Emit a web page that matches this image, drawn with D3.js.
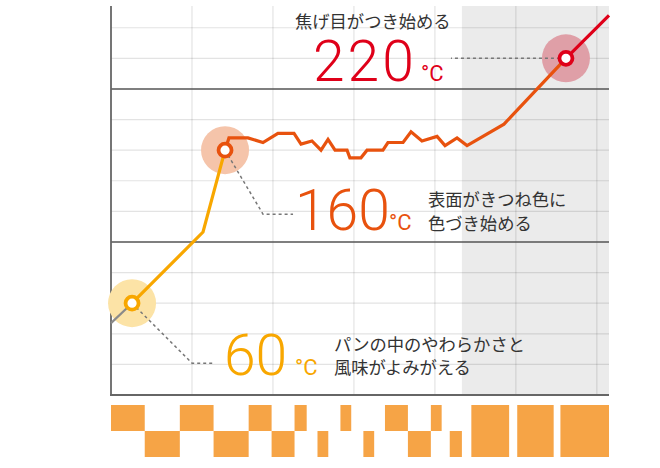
<!DOCTYPE html>
<html><head><meta charset="utf-8">
<script src="https://cdn.jsdelivr.net/npm/d3@7"></script>
<style>body{margin:0;background:#fff}svg{display:block}</style>
</head><body>
<svg id="c" width="660" height="468"></svg>
<script>
// ---- data ----
const timeSec = [0, 15.6, 68.2, 84.5, 87.4, 101.5, 112.6, 123.7, 135.6, 140.8, 148.9, 155.6, 160.8, 166, 174.9, 177, 185.2, 189.7, 201.5, 205.2, 216.4, 222.3, 230.4, 241.6, 247.5, 256.4, 263.8, 291.2, 337.1, 369];
const tempC   = [47, 60, 106.5, 160, 168, 168, 165, 171, 171, 164, 166, 160, 167, 160, 160, 155, 155, 160, 160, 165, 165, 172, 166, 169, 163, 168, 163, 177, 220, 248];
const segmentNames  = ["gray", "amber", "orange", "red"];
const segmentStarts = [0, 1, 3, 28];
const segmentEnds   = [1, 3, 28, 29];
const tempTicksMinor = [20, 40, 60, 80, 120, 140, 160, 180, 220, 240];
const tempTicksMajor = [100, 200];
const timeTicks = [60, 120, 180, 240, 300, 360];
const shadeFrom = 260, shadeTo = 369;
const barsTop    = [[0,25],[51,76],[102,119],[136,145],[170,178],[203,220],[237,245]];
const barsBottom = [[25,51],[76,102],[119,136],[153,161],[187,195],[220,237],[251,260]];
const barsFull   = [[267,295],[301,328],[333,369]];
const keyTemps = [60, 160, 220];
const keyIdx = [1, 3, 28];
const keyNum = ["60", "160", "220"];
const keyText = [["パンの中のやわらかさと","風味がよみがえる"],["表面がきつね色に","色づき始める"],["焦げ目がつき始める"]];

// ---- styles ----
const col = {gray:"#8a8a8a", amber:"#F8A700", orange:"#E8520E", red:"#DF0019"};
const keyCol = [col.amber, col.orange, col.red];
const haloCol = ["#FCE3A6", "#F5C4AA", "#DF9FA7"];

const svg = d3.select("#c");
const x = d3.scaleLinear().domain([0, 369]).range([111, 609]);
const y = d3.scaleLinear().domain([0, 254.2]).range([395, 6]);
const yTop = y.range()[1], yBot = y.range()[0];

// shade
svg.append("rect").attr("x", x(shadeFrom)).attr("y", yTop)
  .attr("width", x(shadeTo)-x(shadeFrom)).attr("height", yBot-yTop).attr("fill", "#EBEBEB");

// minor grid
svg.append("g").selectAll("line").data(tempTicksMinor).join("line")
  .attr("x1", x(0)).attr("x2", x(369)).attr("y1", d=>y(d)).attr("y2", d=>y(d))
  .attr("stroke", "rgba(0,0,0,0.11)").attr("stroke-width", 1.2);
svg.append("g").selectAll("line").data(timeTicks).join("line")
  .attr("x1", d=>x(d)).attr("x2", d=>x(d)).attr("y1", yTop).attr("y2", yBot)
  .attr("stroke", "rgba(0,0,0,0.11)").attr("stroke-width", 1.2);
// major grid
svg.append("g").selectAll("line").data(tempTicksMajor).join("line")
  .attr("x1", x(0)).attr("x2", x(369)).attr("y1", d=>y(d)).attr("y2", d=>y(d))
  .attr("stroke", "#555").attr("stroke-width", 1.5);
// axes
svg.append("line").attr("x1", x(0)).attr("x2", x(0)).attr("y1", yTop).attr("y2", yBot)
  .attr("stroke", "#666").attr("stroke-width", 1.8);
svg.append("line").attr("x1", x(0)-1).attr("x2", x(369)).attr("y1", yBot).attr("y2", yBot)
  .attr("stroke", "#666").attr("stroke-width", 2.2);

// bars
const rows = d3.scaleBand().domain(["top","bottom"]).range([405, 457]);
const barFill = "#F6A446";
const bars = svg.append("g").attr("fill", barFill);
bars.selectAll(".bt").data(barsTop).join("rect").attr("class","bt").attr("x", d=>x(d[0])).attr("width", d=>x(d[1])-x(d[0]))
  .attr("y", rows("top")).attr("height", rows.bandwidth());
bars.selectAll(".bb").data(barsBottom).join("rect").attr("class","bb").attr("x", d=>x(d[0])).attr("width", d=>x(d[1])-x(d[0]))
  .attr("y", rows("bottom")).attr("height", rows.bandwidth());
bars.selectAll(".bf").data(barsFull).join("rect").attr("class","bf").attr("x", d=>x(d[0])).attr("width", d=>x(d[1])-x(d[0]))
  .attr("y", rows("top")).attr("height", rows.bandwidth()*2);

// halos
const pts = timeSec.map((t,i)=>[t, tempC[i]]);
svg.append("g").selectAll("circle").data(keyIdx).join("circle")
  .attr("cx", d=>x(timeSec[d])).attr("cy", d=>y(tempC[d])).attr("r", 24)
  .attr("fill", (d,i)=>haloCol[i]);

// dotted leaders (offsets in px from the point)
const leaders = [
  [[0,0],[60,60],[83,60]],
  [[0,0],[38,64],[68,64]],
  [[0,0],[-115,0]]
];
const dl = d3.line();
svg.append("g").selectAll("path").data(leaders).join("path")
  .attr("d", (L,i)=>dl(L.map(p=>[x(timeSec[keyIdx[i]])+p[0], y(tempC[keyIdx[i]])+p[1]])))
  .attr("fill", "none").attr("stroke", "#777").attr("stroke-width", 1.5).attr("stroke-dasharray", "3,3");

// line segments
const line = d3.line().x(d=>x(d[0])).y(d=>y(d[1]));
segmentNames.forEach((n,k)=>{
  svg.append("path").datum(pts.slice(segmentStarts[k], segmentEnds[k]+1))
    .attr("d", line).attr("fill","none").attr("stroke", col[n])
    .attr("stroke-width", n==="gray"?2.2:3.2).attr("stroke-linejoin","miter");
});

// markers
svg.append("g").selectAll("circle").data(keyIdx).join("circle")
  .attr("cx", d=>x(timeSec[d])).attr("cy", d=>y(tempC[d])).attr("r", 6.5)
  .attr("fill", "#fff").attr("stroke", (d,i)=>keyCol[i]).attr("stroke-width", 3.8);

// labels
const numFont = "Roboto, 'Liberation Sans', sans-serif";
const jpFont = "'Noto Sans CJK JP', sans-serif";
const labelPos = [
  {nx:224, ny:375, ls:0, dx:295, jx:334, jy:[351, 374]},
  {nx:295, ny:230, ls:0, dx:389, jx:428, jy:[206, 230]},
  {nx:313, ny:81,  ls:3, dx:421, jx:295, jy:[28]}
];
labelPos.forEach((p,i)=>{
  svg.append("text").attr("x", p.nx).attr("y", p.ny).text(keyNum[i])
    .attr("font-family", numFont).attr("font-weight", 300).attr("font-size", 57)
    .attr("letter-spacing", p.ls).attr("fill", keyCol[i]);
  svg.append("text").attr("x", p.dx).attr("y", p.ny).text("°C")
    .attr("font-family", numFont).attr("font-weight", 400).attr("font-size", 22)
    .attr("fill", keyCol[i]);
  keyText[i].forEach((t,j)=>{
    svg.append("text").attr("x", p.jx).attr("y", p.jy[j]).text(t)
      .attr("font-family", jpFont).attr("font-size", 17.3).attr("fill", "#333");
  });
});
</script>
</body></html>
